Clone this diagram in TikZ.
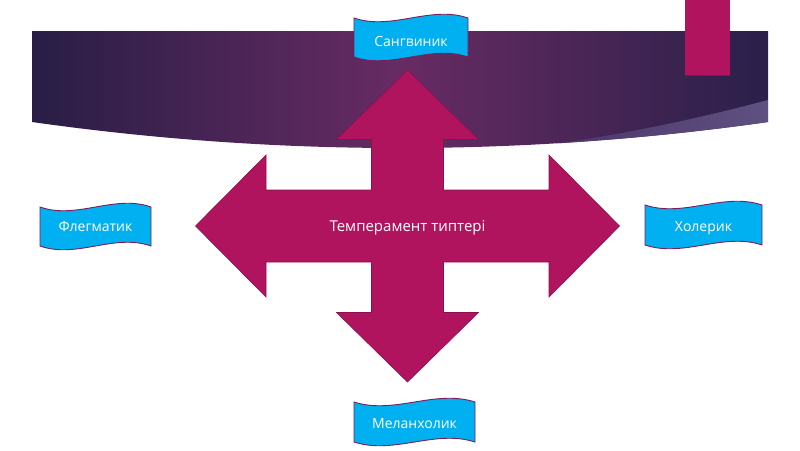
\documentclass[tikz,border=0pt]{standalone}
\usepackage{fontspec}
\setmainfont{Open Sans}
\definecolor{arrowfill}{HTML}{B0145F}
\definecolor{arrowline}{HTML}{8C1050}
\definecolor{bannerfill}{HTML}{00B0F0}
\definecolor{bannerline}{HTML}{7A1E5C}
\definecolor{bandA}{HTML}{281E45}
\definecolor{bandB}{HTML}{672B63}
\definecolor{bandC}{HTML}{2A2049}
\definecolor{stripeA}{HTML}{4A3466}
\definecolor{stripeB}{HTML}{5F5282}
\tikzset{
  bannershape/.style={fill=bannerfill, draw=bannerline, line width=0.9pt},
  bannertext/.style={text=white, font=\fontsize{14}{16}\selectfont, inner sep=0pt, anchor=base},
  crossshape/.style={fill=arrowfill, draw=arrowline, line width=0.6pt},
  centertext/.style={text=white, font=\fontsize{15}{18}\selectfont, inner sep=0pt, anchor=base},
}
% #1 left, #2 right, #3 y of top corners, #4 y of bottom corners
\newcommand\wavebanner[4]{%
  \pgfmathsetmacro\bw{#2-#1}%
  \pgfmathsetmacro\bdc{13}%
  \draw[bannershape] (#1,#3) .. controls (#1+\bw/3,#3+\bdc) and (#1+2*\bw/3,#3-\bdc) .. (#2,#3)
    -- (#2,#4) .. controls (#1+2*\bw/3,#4-\bdc) and (#1+\bw/3,#4+\bdc) .. (#1,#4) -- cycle;}
\begin{document}
\begin{tikzpicture}[x=1pt,y=-1pt]
\useasboundingbox (0,0) rectangle (800,450);
\fill[white] (0,0) rectangle (800,450);
% dark band
\path[left color=bandA, right color=bandC, middle color=bandB]
  (32,31) -- (768,31) -- (768,122) .. controls (522.7,156.7) and (277.3,156.7) .. (32,122) -- cycle;
\begin{scope}
  \clip (32,31) -- (768,31) -- (768,122) .. controls (522.7,156.7) and (277.3,156.7) .. (32,122) -- cycle;
  \path[left color=stripeA, right color=stripeB]
    (768,100) .. controls (700,118) and (620,136) .. (530,147) -- (530,200) -- (780,200) -- (780,100) -- cycle;
\end{scope}
% pink bar
\fill[arrowfill] (685,0) rectangle (730,75);
\draw[arrowline, line width=0.6pt] (685,75) -- (730,75);
% cross arrow
\draw[crossshape, shift={(407.5,226)}]
  (0,-156) -- (71,-86.5) -- (36,-86.5) -- (36,-36) -- (141.5,-36) -- (141.5,-71) -- (212,0)
  -- (141.5,71) -- (141.5,36) -- (36,36) -- (36,86.5) -- (71,86.5) -- (0,156)
  -- (-71,86.5) -- (-36,86.5) -- (-36,36) -- (-141.5,36) -- (-141.5,71) -- (-212,0)
  -- (-141.5,-71) -- (-141.5,-36) -- (-36,-36) -- (-36,-86.5) -- (-71,-86.5) -- cycle;
\node[centertext] (center) at (407.5,231) {Темперамент типтері};
% banners
\wavebanner{354}{468}{18}{57}
\node[bannertext] (sang) at (411,46.5) {Сангвиник};
\wavebanner{40}{151}{207}{246}
\node[bannertext] (fleg) at (95.5,231.5) {Флегматик};
\wavebanner{645}{762}{205}{245}
\node[bannertext] (chol) at (703.5,231.5) {Холерик};
\wavebanner{354}{475}{402}{442}
\node[bannertext] (mel) at (414.5,428) {Меланхолик};
\end{tikzpicture}
\end{document}
